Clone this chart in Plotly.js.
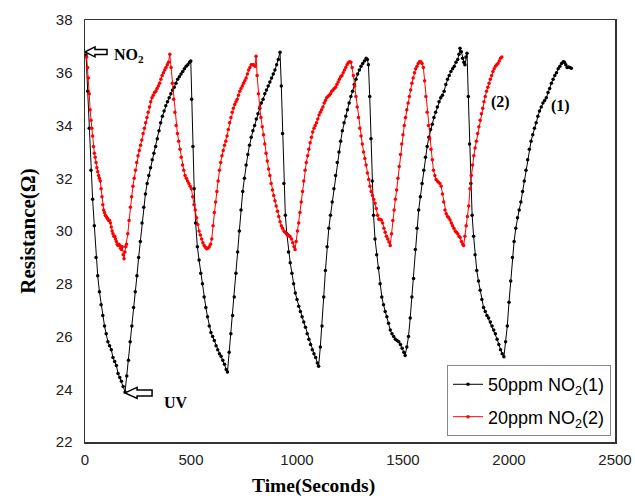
<!DOCTYPE html>
<html>
<head>
<meta charset="utf-8">
<script src="https://cdn.plot.ly/plotly-3.0.1.min.js"></script>
<style>html,body{margin:0;padding:0;background:#fff}#chart{width:635px;height:498px}</style>
</head>
<body>
<div id="chart"></div>
<script>
// ---- Series (1): 50 ppm NO2 ----
const time50 = [
  5,13,20,28,36,44,52,60,68,76,84,92,100,108,116,124,132,140,148,156,164,172,180,189,
  197,205,213,221,229,237,245,253,261,269,277,285,293,301,309,317,325,333,341,349,357,365,373,381,389,397,405,413,421,429,437,445,453,461,469,477,485,493,499,
  503,509,515,522,530,538,546,554,562,570,578,586,594,602,610,618,626,634,642,650,658,666,672,
  680,688,696,704,712,720,728,736,744,752,760,768,776,784,792,800,808,816,824,832,840,848,856,864,872,880,888,896,904,912,920,
  926,932,938,945,952,960,968,976,984,992,1000,1008,1016,1024,1032,1040,1048,1056,1064,1072,1080,1088,1096,1102,
  1110,1118,1126,1134,1142,1150,1158,1166,1174,1182,1190,1198,1206,1214,1222,1230,1238,1246,1254,1262,1270,1278,1286,1294,1302,1310,1318,1326,1332,1337,
  1343,1349,1355,1361,1368,1376,1384,1392,1400,1408,1416,1424,1432,1440,1448,1456,1464,1472,1480,1488,1496,1504,1510,
  1518,1526,1534,1542,1550,1558,1566,1574,1582,1590,1598,1606,1614,1622,1630,1638,1646,1654,1662,1670,1678,1686,1694,1702,1710,1718,1726,1734,1742,1750,1758,1764,1769,1775,1781,1787,1792,1797,1802,
  1808,1814,1820,1826,1833,1840,1848,1856,1864,1872,1880,1888,1896,1904,1912,1920,1928,1936,1944,1952,1960,1968,1976,
  1984,1992,2000,2008,2016,2024,2032,2040,2048,2056,2064,2072,2080,2088,2096,2104,2112,2120,2128,2136,2144,2152,2160,2168,2176,2184,2192,2200,2208,2216,2224,2232,2240,2248,2256,2262,2268,2274,2280,2287,2294
];
const res50 = [
  36.67,35.3,33.9,32.3,31.2,30.2,29.0,28.3,27.7,27.2,26.8,26.4,26.1,25.8,25.65,25.5,25.2,25.05,24.9,24.6,24.45,24.3,24.1,23.9,
  24.5,25.1,25.8,26.4,27.1,27.7,28.3,29.0,29.6,30.3,30.9,31.4,31.8,32.1,32.4,32.7,32.95,33.2,33.5,33.8,34.1,34.35,34.55,34.75,34.9,35.05,35.2,35.35,35.45,35.6,35.75,35.85,35.95,36.05,36.15,36.25,36.3,36.4,36.45,
  35.0,33.2,31.6,30.3,29.4,28.9,28.4,28.0,27.5,27.1,26.75,26.4,26.15,26.0,25.85,25.65,25.5,25.35,25.25,25.1,24.95,24.75,24.65,
  25.4,26.1,26.8,27.5,28.4,29.2,30.0,30.8,31.5,32.0,32.5,32.9,33.25,33.55,33.8,34.0,34.25,34.45,34.65,34.85,35.0,35.2,35.35,35.5,35.65,35.8,35.95,36.1,36.3,36.5,36.78,
  35.5,33.7,31.8,30.6,29.9,29.2,28.8,28.4,28.0,27.65,27.4,27.15,26.95,26.75,26.55,26.35,26.1,25.9,25.7,25.5,25.35,25.2,25.0,24.87,
  25.6,26.4,27.5,28.5,29.4,30.1,30.6,31.1,31.6,32.1,32.6,33.0,33.4,33.8,34.1,34.35,34.6,34.85,35.1,35.3,35.55,35.75,35.95,36.1,36.25,36.35,36.45,36.55,36.5,36.3,
  35.1,33.5,31.9,30.6,29.7,29.1,28.6,28.0,27.5,27.2,26.95,26.75,26.5,26.25,26.1,26.0,25.9,25.85,25.8,25.7,25.55,25.4,25.28,
  25.6,26.0,26.7,27.5,28.2,29.3,30.1,30.8,31.3,31.8,32.3,32.8,33.2,33.55,33.85,34.05,34.3,34.5,34.7,34.9,35.05,35.15,35.3,35.55,35.75,35.9,36.05,36.15,36.25,36.4,36.5,36.7,36.93,36.8,36.55,36.4,36.3,36.6,36.74,
  35.1,33.3,31.8,30.6,29.8,29.1,28.5,28.1,27.75,27.4,27.1,26.95,26.8,26.7,26.55,26.4,26.25,26.1,25.9,25.7,25.5,25.35,25.23,
  25.8,26.4,27.3,28.1,29.0,29.6,30.1,30.5,30.8,31.1,31.5,31.9,32.3,32.7,33.1,33.4,33.65,33.9,34.1,34.35,34.55,34.7,34.85,34.95,35.05,35.25,35.4,35.6,35.75,35.9,36.0,36.15,36.25,36.35,36.42,36.4,36.3,36.2,36.22,36.2,36.17
];

// ---- Series (2): 20 ppm NO2 ----
const time20 = [
  8,12,16,20,24,28,32,36,40,44,48,52,56,60,64,68,72,76,80,84,88,92,96,100,104,108,112,116,120,124,128,132,136,140,144,148,152,156,160,164,168,172,176,180,184,188,192,
  196,202,208,214,220,226,232,238,244,250,256,262,268,274,280,286,292,298,304,310,316,322,328,334,340,346,352,358,364,370,376,382,388,394,400,
  406,412,418,424,430,436,442,448,454,460,466,472,478,484,490,496,502,508,514,520,526,532,538,544,550,556,562,568,574,580,586,592,598,
  604,610,616,622,628,634,640,646,652,658,664,670,676,682,688,694,700,706,712,718,724,730,736,742,748,754,760,766,772,778,784,790,796,802,807,
  812,818,824,830,836,842,848,854,860,866,872,878,884,890,896,902,908,914,920,926,932,938,944,950,956,962,968,974,980,986,991,
  996,1002,1008,1014,1020,1026,1032,1038,1044,1050,1056,1062,1068,1074,1080,1086,1092,1098,1104,1110,1116,1122,1128,1134,1140,1146,1152,1158,1164,1170,1176,1182,1188,1194,1200,1206,1212,1218,1224,1230,1236,1242,1248,1254,
  1260,1266,1272,1278,1284,1290,1296,1302,1308,1314,1320,1326,1332,1338,1344,1350,1356,1362,1368,1374,1380,1386,1392,1398,1404,1410,1416,1422,1428,1434,1440,
  1446,1452,1458,1464,1470,1476,1482,1488,1494,1500,1506,1512,1518,1524,1530,1536,1542,1548,1554,1560,1566,1572,1578,1584,1590,1596,
  1602,1608,1614,1620,1626,1632,1638,1644,1650,1656,1662,1668,1674,1680,1686,1692,1698,1704,1710,1716,1722,1728,1734,1740,1746,1752,1758,1764,1770,1776,1782,1786,
  1792,1798,1804,1810,1816,1822,1828,1834,1840,1846,1852,1858,1864,1870,1876,1882,1888,1894,1900,1906,1912,1918,1924,1930,1936,1942,1948,1954,1960,1966
];
const res20 = [
  36.6,36.2,35.8,35.2,34.6,34.2,33.9,33.6,33.2,32.95,32.8,32.6,32.4,32.25,32.1,32.0,31.9,31.6,31.3,31.0,30.8,30.7,30.6,30.55,30.5,30.45,30.4,30.4,30.3,30.15,30.0,29.9,29.8,29.8,29.7,29.6,29.5,29.45,29.5,29.45,29.35,29.3,29.4,29.1,28.95,29.2,29.4,
  29.5,29.9,30.4,30.9,31.3,31.7,32.0,32.3,32.6,32.85,33.05,33.25,33.45,33.7,33.9,34.1,34.3,34.5,34.7,34.9,35.05,35.15,35.25,35.3,35.4,35.5,35.6,35.75,35.9,36.0,36.1,36.2,36.3,36.4,36.7,
  36.2,35.6,35.0,34.5,34.0,33.7,33.4,33.1,32.8,32.5,32.3,32.1,32.0,31.9,31.8,31.7,31.6,31.3,31.0,30.8,30.5,30.25,30.0,29.85,29.7,29.55,29.45,29.38,29.33,29.35,29.4,29.5,29.7,
  30.2,30.7,31.1,31.5,31.9,32.3,32.6,32.85,33.05,33.25,33.4,33.6,33.85,34.1,34.3,34.5,34.65,34.8,34.9,35.0,35.15,35.3,35.4,35.5,35.6,35.7,35.8,35.95,36.1,36.2,36.3,36.3,36.3,36.25,36.63,
  35.9,35.2,34.7,34.3,33.95,33.65,33.3,32.95,32.65,32.35,32.1,31.8,31.55,31.35,31.15,30.95,30.75,30.55,30.35,30.2,30.1,30.0,29.95,29.9,29.85,29.82,29.78,29.7,29.55,29.4,29.3,
  29.6,30.0,30.3,30.7,31.1,31.5,31.9,32.3,32.6,32.85,33.1,33.35,33.55,33.75,33.9,34.0,34.1,34.25,34.4,34.5,34.6,34.7,34.85,34.95,35.05,35.1,35.15,35.2,35.3,35.35,35.4,35.45,35.55,35.65,35.75,35.85,35.9,36.0,36.1,36.2,36.3,36.38,36.42,36.4,
  36.2,35.9,35.5,35.1,34.7,34.3,33.9,33.6,33.3,33.0,32.75,32.5,32.2,31.95,31.7,31.5,31.35,31.2,31.05,30.85,30.6,30.45,30.45,30.42,30.3,30.1,29.95,29.8,29.7,29.58,29.45,
  29.9,30.4,30.8,31.2,31.55,32.0,32.45,32.9,33.3,33.65,34.0,34.3,34.6,34.85,35.1,35.35,35.6,35.8,36.0,36.15,36.25,36.35,36.42,36.42,36.35,36.2,
  35.7,35.1,34.5,34.0,33.5,33.1,32.7,32.3,32.1,31.95,31.9,31.85,31.8,31.7,31.4,31.1,30.8,30.65,30.55,30.5,30.42,30.3,30.2,30.1,30.0,29.95,29.9,29.8,29.75,29.6,29.5,29.45,
  29.8,30.2,30.55,30.95,31.6,32.1,32.5,32.85,33.15,33.4,33.7,33.95,34.2,34.45,34.65,34.9,35.1,35.3,35.45,35.6,35.75,35.9,36.05,36.15,36.25,36.3,36.35,36.45,36.55,36.6
];

// ---- Axis ticks ----
const xTicks = [0, 500, 1000, 1500, 2000, 2500];
const yTicks = [22, 24, 26, 28, 30, 32, 34, 36, 38];

const traces = [
  {
    x: time50, y: res50, type: 'scatter', mode: 'lines+markers',
    name: '50ppm NO<sub>2</sub>(1)', legendgroup: 'g1',
    line: {color: '#000000', width: 1},
    marker: {color: '#000000', size: 3.5, symbol: 'circle'}
  },
  {
    x: time20, y: res20, type: 'scatter', mode: 'lines+markers',
    name: '20ppm NO<sub>2</sub>(2)', legendgroup: 'g2',
    line: {color: '#ff0000', width: 1},
    marker: {color: '#ff0000', size: 3.5, symbol: 'circle'}
  }
];

const serif = 'Liberation Serif, Times New Roman, serif';
const sans = 'Liberation Sans, Arial, sans-serif';

// hollow block-arrow outline (pixel offsets from its tip)
const arrowUV = 'M0,0 L12,5.5 L12,3 L27,3 L27,-3 L12,-3 L12,-5.5 Z';
const arrowNO2 = 'M0,0 L10,5 L10,2.5 L22,2.5 L22,-2.5 L10,-2.5 L10,-5 Z';

const layout = {
  width: 635, height: 498,
  margin: {l: 85, r: 20, t: 20, b: 56},
  paper_bgcolor: '#ffffff', plot_bgcolor: '#ffffff',
  showlegend: true,
  xaxis: {
    range: [0, 2500], tickvals: xTicks, ticktext: xTicks.map(String),
    showgrid: false, zeroline: false, showline: true, mirror: true,
    linecolor: '#333333', linewidth: 1.5, ticks: '',
    ticklabelstandoff: 3,
    tickfont: {family: sans, size: 15, color: '#222222'}
  },
  yaxis: {
    range: [22, 38], tickvals: yTicks, ticktext: yTicks.map(String),
    showgrid: false, zeroline: false, showline: true, mirror: true,
    linecolor: '#333333', linewidth: 1.5, ticks: '',
    ticklabelstandoff: 8,
    tickfont: {family: sans, size: 15, color: '#222222'},
    title: {text: 'Resistance(Ω)', font: {family: serif, size: 21, color: '#000000', weight: 'bold'}, standoff: 14}
  },
  legend: {
    x: 0.9925, y: 0.014, xanchor: 'right', yanchor: 'bottom',
    bgcolor: '#ffffff', bordercolor: '#888888', borderwidth: 1,
    tracegroupgap: 6,
    font: {family: sans, size: 18, color: '#000000'}
  },
  shapes: [
    {type: 'path', xref: 'x', yref: 'y', xsizemode: 'pixel', ysizemode: 'pixel',
     xanchor: 0, yanchor: 36.79, path: arrowNO2,
     line: {color: '#000000', width: 1.5}, fillcolor: '#ffffff'},
    {type: 'path', xref: 'x', yref: 'y', xsizemode: 'pixel', ysizemode: 'pixel',
     xanchor: 189, yanchor: 23.86, path: arrowUV,
     line: {color: '#000000', width: 1.5}, fillcolor: '#ffffff'}
  ],
  annotations: [
    {xref: 'paper', yref: 'paper', x: (313 - 85) / 530, y: -0.105, xanchor: 'center', yanchor: 'middle',
     text: '<b>Time(Seconds)</b>', showarrow: false,
     font: {family: serif, size: 19.5, color: '#000000'}},
    {x: 127, y: 36.67, xref: 'x', yref: 'y', xanchor: 'left', yanchor: 'middle',
     text: '<b>NO<sub>2</sub></b>', showarrow: false, font: {family: serif, size: 16, color: '#000000'}},
    {x: 363, y: 23.48, xref: 'x', yref: 'y', xanchor: 'left', yanchor: 'middle',
     text: '<b>UV</b>', showarrow: false, font: {family: serif, size: 16, color: '#000000'}},
    {x: 1958, y: 34.89, xref: 'x', yref: 'y', xanchor: 'center', yanchor: 'middle',
     text: '<b>(2)</b>', showarrow: false, font: {family: serif, size: 16, color: '#000000'}},
    {x: 2245, y: 34.74, xref: 'x', yref: 'y', xanchor: 'center', yanchor: 'middle',
     text: '<b>(1)</b>', showarrow: false, font: {family: serif, size: 16, color: '#000000'}}
  ]
};

Plotly.newPlot('chart', traces, layout, {displayModeBar: false, staticPlot: true});
</script>
</body>
</html>
